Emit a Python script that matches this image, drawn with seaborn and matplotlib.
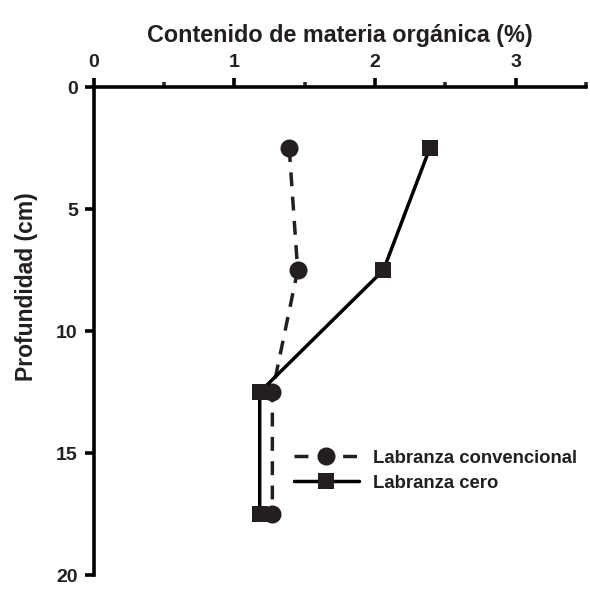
from matplotlib import pyplot as plt
from matplotlib.ticker import MultipleLocator
import seaborn as sns
import pandas as pd

# data
depth = [2.5, 7.5, 12.5, 17.5]
conv = [1.39, 1.45, 1.27, 1.27]
cero = [2.39, 2.06, 1.18, 1.18]
series = ["Labranza convencional", "Labranza cero"]

df = pd.DataFrame({
    "mo": conv + cero,
    "prof": depth + depth,
    "trat": [series[0]] * 4 + [series[1]] * 4,
})

sns.set_style("white")
plt.rcParams["font.family"] = ["Liberation Sans", "DejaVu Sans"]
plt.rcParams["font.weight"] = "bold"

ink = "#231f20"
fig = plt.figure(figsize=(5.9, 6.01), dpi=100)
ax = fig.add_axes([0.159, 0.043, 0.834, 0.812])

sns.lineplot(data=df, x="mo", y="prof", hue="trat", style="trat",
             palette={series[0]: ink, series[1]: "black"},
             markers={series[0]: "o", series[1]: "s"},
             dashes={series[0]: (4, 3), series[1]: ""},
             sort=False, estimator=None, linewidth=2.5, markersize=11,
             markeredgewidth=0, ax=ax)

# circles a little larger than squares
for ln in ax.lines:
    if ln.get_marker() == "o":
        ln.set_markersize(13)
    ln.set_markerfacecolor(ink)

ax.set_xlim(0, 3.5)
ax.set_ylim(20, 0)
ax.xaxis.set_major_locator(MultipleLocator(1))
ax.xaxis.set_minor_locator(MultipleLocator(0.5))
ax.yaxis.set_major_locator(MultipleLocator(5))
ax.xaxis.tick_top()
ax.xaxis.set_label_position("top")

for side in ["right", "bottom"]:
    ax.spines[side].set_visible(False)
for side in ["top", "left"]:
    ax.spines[side].set_linewidth(2.6)
    ax.spines[side].set_color("black")

ax.tick_params(axis="both", which="major", direction="out", length=6.5, width=2.6,
               labelsize=14, colors="black", labelcolor=ink, pad=5)
ax.tick_params(axis="y", left=True, right=False, pad=5)
ax.tick_params(axis="x", which="minor", direction="out", length=3.5, width=2.6, top=True)
ax.tick_params(axis="x", which="both", bottom=False, top=True)
for lab in ax.get_xticklabels() + ax.get_yticklabels():
    lab.set_fontweight("bold")

ax.set_xlabel("Contenido de materia orgánica (%)", fontsize=16.8, fontweight="bold",
              color=ink, labelpad=9)
ax.set_ylabel("Profundidad (cm)", fontsize=16.5, fontweight="bold", color=ink)
ax.yaxis.set_label_coords(-0.113, 0.592)

handles, labels = ax.get_legend_handles_labels()
for h in handles:
    h.set_markerfacecolor(ink)
handles[0].set_markersize(13)
leg = ax.legend(handles, labels, frameon=False, loc="center left",
                bbox_to_anchor=(0.373, 0.214), fontsize=13.3, handlelength=3.5,
                labelspacing=0.45, handletextpad=0.8)
for t in leg.get_texts():
    t.set_fontweight("bold")
    t.set_color(ink)

fig.savefig("out.png", dpi=100)
